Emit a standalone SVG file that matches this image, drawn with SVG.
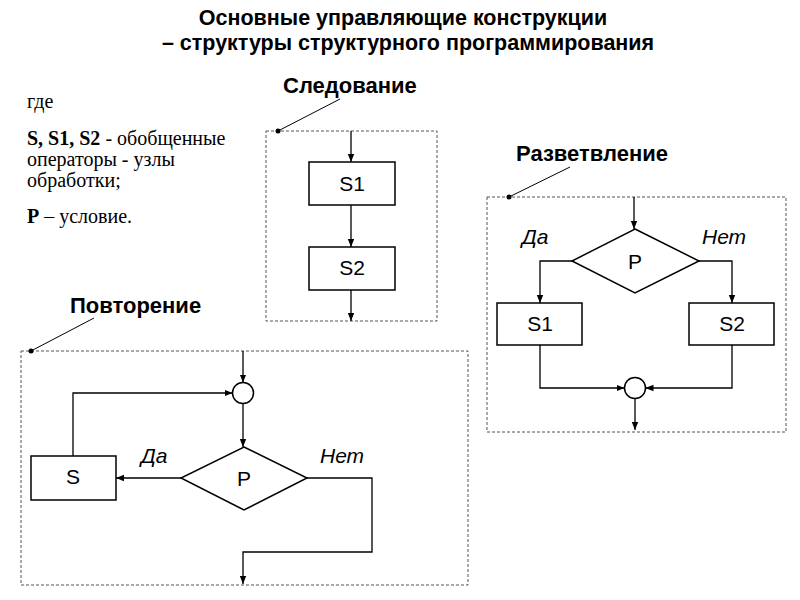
<svg xmlns="http://www.w3.org/2000/svg" width="800" height="600" viewBox="0 0 800 600">
<defs>
<marker id="arr" viewBox="0 0 10 10" refX="10" refY="5" markerWidth="8" markerHeight="8" markerUnits="userSpaceOnUse" orient="auto">
<path d="M0,1 L10,5 L0,9 Z" fill="#000"/>
</marker>
</defs>
<style>
.title{font-family:"Liberation Sans",Arial,sans-serif;font-weight:bold;font-size:21.5px;fill:#000;text-anchor:middle}
.head{font-family:"Liberation Sans",Arial,sans-serif;font-weight:bold;font-size:22px;fill:#000}
.lbl{font-family:"Liberation Sans",Arial,sans-serif;font-size:21px;fill:#000;text-anchor:middle}
.it{font-family:"Liberation Sans",Arial,sans-serif;font-size:21px;font-style:italic;fill:#000}
.note{font-family:"Liberation Serif","Times New Roman",serif;font-size:20px;fill:#000}
.box{fill:#fff;stroke:#000;stroke-width:1.5}
.frame{fill:none;stroke:#555;stroke-width:1;stroke-dasharray:3,2}
.ln{fill:none;stroke:#000;stroke-width:1.3}
.lead{fill:none;stroke:#000;stroke-width:1}
</style>
<rect width="800" height="600" fill="#fff"/>
<text class="title" x="403" y="25">Основные управляющие конструкции</text>
<text class="title" x="408" y="50">– структуры структурного программирования</text>

<g id="legend">
<text class="note" x="27" y="108">где</text>
<text class="note" x="27" y="145"><tspan font-weight="bold">S, S1, S2</tspan> - обобщенные</text>
<text class="note" x="27" y="166">операторы - узлы</text>
<text class="note" x="27" y="187">обработки;</text>
<text class="note" x="27" y="223"><tspan font-weight="bold">P</tspan> – условие.</text>
</g>

<!-- Следование -->
<g id="seq-frame">
<rect class="frame" x="266" y="131" width="171" height="190"/>
<text class="head" x="283" y="93">Следование</text>
<line class="lead" x1="340" y1="99" x2="278" y2="131"/>
<circle cx="278" cy="131" r="2.5" fill="#000"/>
</g>
<g id="seq-s1"><rect class="box" x="309" y="162" width="86" height="43"/><text class="lbl" x="352" y="191">S1</text></g>
<g id="seq-s2"><rect class="box" x="309" y="247" width="86" height="43"/><text class="lbl" x="352" y="275">S2</text></g>

<!-- Разветвление -->
<g id="br-frame">
<rect class="frame" x="487" y="197" width="299" height="235"/>
<text class="head" x="516" y="161">Разветвление</text>
<line class="lead" x1="570" y1="167" x2="509" y2="197"/>
<circle cx="509" cy="197" r="2.5" fill="#000"/>
</g>
<g id="br-p"><polygon class="box" points="635,229 699,261 635,293 572,261"/><text class="lbl" x="635" y="269">P</text></g>
<g id="br-s1"><rect class="box" x="497" y="303" width="85" height="42"/><text class="lbl" x="540" y="331">S1</text></g>
<g id="br-s2"><rect class="box" x="689" y="303" width="85" height="42"/><text class="lbl" x="732" y="331">S2</text></g>
<g id="br-join"><circle class="box" cx="635" cy="388" r="10.5"/></g>
<text class="it" x="522" y="244">Да</text>
<text class="it" x="702" y="244">Нет</text>

<!-- Повторение -->
<g id="rep-frame">
<rect class="frame" x="21" y="351" width="447" height="234"/>
<text class="head" x="70" y="313">Повторение</text>
<line class="lead" x1="94" y1="318" x2="31" y2="351"/>
<circle cx="31" cy="351" r="2.5" fill="#000"/>
</g>
<g id="rep-join"><circle class="box" cx="243" cy="393" r="10.5"/></g>
<g id="rep-p"><polygon class="box" points="244,447 307,478 244,510 181,478"/><text class="lbl" x="244" y="486">P</text></g>
<g id="rep-s"><rect class="box" x="31" y="456" width="85" height="44"/><text class="lbl" x="73" y="484">S</text></g>
<text class="it" x="141" y="463">Да</text>
<text class="it" x="320" y="463">Нет</text>

<g id="connectors">
<!-- sequence -->
<line class="ln" x1="351" y1="131" x2="351" y2="162" marker-end="url(#arr)"/>
<line class="ln" x1="351" y1="205" x2="351" y2="247" marker-end="url(#arr)"/>
<line class="ln" x1="351" y1="290" x2="351" y2="321" marker-end="url(#arr)"/>
<!-- branch -->
<line class="ln" x1="634" y1="197" x2="634" y2="229" marker-end="url(#arr)"/>
<polyline class="ln" points="572,261 540,261 540,303" marker-end="url(#arr)"/>
<polyline class="ln" points="699,261 732,261 732,303" marker-end="url(#arr)"/>
<polyline class="ln" points="540,345 540,388 624.5,388" marker-end="url(#arr)"/>
<polyline class="ln" points="732,345 732,388 645.5,388" marker-end="url(#arr)"/>
<line class="ln" x1="635" y1="398.5" x2="635" y2="430" marker-end="url(#arr)"/>
<!-- repetition -->
<line class="ln" x1="243" y1="351" x2="243" y2="382.5" marker-end="url(#arr)"/>
<polyline class="ln" points="73,456 73,393 232.5,393" marker-end="url(#arr)"/>
<line class="ln" x1="243" y1="403.5" x2="243" y2="447" marker-end="url(#arr)"/>
<line class="ln" x1="181" y1="478" x2="116" y2="478" marker-end="url(#arr)"/>
<polyline class="ln" points="307,478 372,478 372,552 243,552 243,584" marker-end="url(#arr)"/>
</g>
</svg>
